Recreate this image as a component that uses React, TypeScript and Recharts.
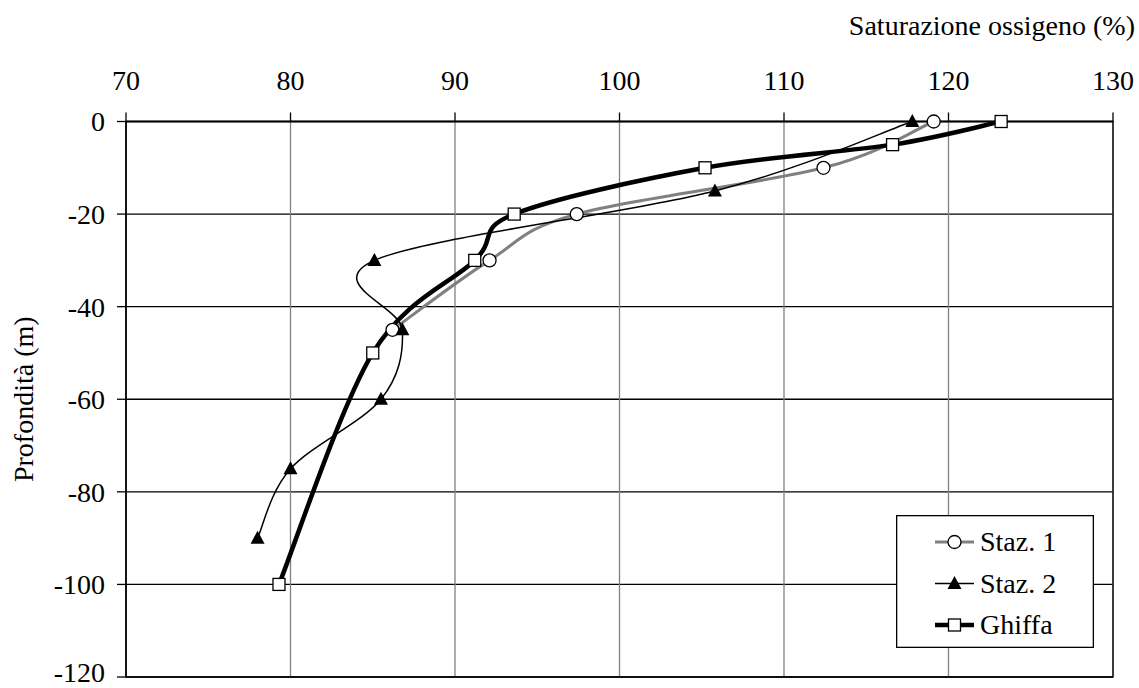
import React from 'react'
import {
  CartesianGrid,
  ComposedChart,
  Line,
  ReferenceArea,
  XAxis,
  YAxis,
} from 'recharts'

const FONT = 'Liberation Serif'
const FONT_SIZE = 28

const xTicks = [70, 80, 90, 100, 110, 120, 130]
const yTicks = [0, -20, -40, -60, -80, -100, -120]

const depthStaz1 = [0, -10, -20, -30, -45]
const satStaz1 = [119.1, 112.4, 97.4, 92.1, 86.2]

const depthStaz2 = [0, -15, -30, -45, -60, -75, -90]
const satStaz2 = [117.8, 105.8, 85.1, 86.8, 85.5, 80.0, 78.0]

const depthGhiffa = [0, -5, -10, -20, -30, -50, -100]
const satGhiffa = [123.2, 116.6, 105.2, 93.6, 91.2, 85.0, 79.3]

const toRows = (depths: number[], sats: number[]) =>
  depths.map((depth, i) => ({ depth, sat: sats[i] }))

const staz1 = toRows(depthStaz1, satStaz1)
const staz2 = toRows(depthStaz2, satStaz2)
const ghiffa = toRows(depthGhiffa, satGhiffa)

// excel-like smoothing (catmull-rom through the points)
const excelSmooth = (context: any) => {
  let pts: number[][] = []
  return {
    areaStart() {},
    areaEnd() {},
    lineStart() {
      pts = []
    },
    point(x: number, y: number) {
      pts.push([+x, +y])
    },
    lineEnd() {
      if (!pts.length) return
      context.moveTo(pts[0][0], pts[0][1])
      for (let i = 0; i < pts.length - 1; i++) {
        const p0 = pts[Math.max(i - 1, 0)]
        const p1 = pts[i]
        const p2 = pts[i + 1]
        const p3 = pts[Math.min(i + 2, pts.length - 1)]
        context.bezierCurveTo(
          p1[0] + (p2[0] - p0[0]) / 6,
          p1[1] + (p2[1] - p0[1]) / 6,
          p2[0] - (p3[0] - p1[0]) / 6,
          p2[1] - (p3[1] - p1[1]) / 6,
          p2[0],
          p2[1]
        )
      }
    },
  }
}

const Circle = ({ cx, cy }: any) => (
  <circle cx={cx} cy={cy} r={6.5} fill="#fff" stroke="#000" strokeWidth={1.3} />
)
const Triangle = ({ cx, cy }: any) => (
  <polygon
    points={`${cx - 7},${cy + 5.5} ${cx + 7},${cy + 5.5} ${cx},${cy - 7.5}`}
    fill="#000"
  />
)
const Square = ({ cx, cy }: any) => (
  <rect x={cx - 6} y={cy - 6} width={12} height={12} fill="#fff" stroke="#000" strokeWidth={1.3} />
)

const legendItems = [
  { name: 'Staz. 1', stroke: '#808080', width: 3, Marker: Circle },
  { name: 'Staz. 2', stroke: '#000', width: 1.5, Marker: Triangle },
  { name: 'Ghiffa', stroke: '#000', width: 4.5, Marker: Square },
]

const LegendBox = () => (
  <svg width={198} height={133} style={{ position: 'absolute', left: 896, top: 515 }}>
    <rect x={0.65} y={0.65} width={196.7} height={131.7} fill="#fff" stroke="#000" strokeWidth={1.3} />
    {legendItems.map((item, i) => {
      const y = 27 + i * 41.5
      return (
        <g key={item.name}>
          <line x1={39} x2={78} y1={y} y2={y} stroke={item.stroke} strokeWidth={item.width} />
          <item.Marker cx={58.5} cy={y} />
          <text x={84} y={y + 9} fontFamily={FONT} fontSize={FONT_SIZE} fill="#000">
            {item.name}
          </text>
        </g>
      )
    })}
  </svg>
)

const tickStyle = { fontFamily: FONT, fontSize: FONT_SIZE, fill: '#000' }

export default function App() {
  return (
    <div style={{ position: 'absolute', left: 0, top: 0, width: 1139, height: 688, fontFamily: FONT }}>
      <ComposedChart
        width={1139}
        height={688}
        layout="vertical"
        margin={{ top: 81.5, right: 26, bottom: 11, left: 10 }}
      >
        <CartesianGrid vertical={false} stroke="#000" strokeWidth={1.3} />
        <CartesianGrid horizontal={false} stroke="#808080" strokeWidth={1.3} />
        <XAxis
          type="number"
          orientation="top"
          domain={[70, 130]}
          ticks={xTicks}
          height={40}
          tick={tickStyle}
          tickSize={9}
          tickMargin={22.5}
          axisLine={{ stroke: '#000', strokeWidth: 1.3 }}
          tickLine={{ stroke: '#000', strokeWidth: 1.3 }}
          label={{
            content: ({ viewBox }: any) => (
              <text
                x={viewBox.x + viewBox.width + 22}
                y={viewBox.y - 47}
                textAnchor="end"
                fontFamily={FONT}
                fontSize={FONT_SIZE}
                fill="#000"
              >
                Saturazione ossigeno (%)
              </text>
            ),
          }}
        />
        <YAxis
          type="number"
          dataKey="depth"
          domain={[-120, 0]}
          ticks={yTicks}
          reversed
          width={116}
          tick={tickStyle}
          tickSize={9}
          tickMargin={12}
          axisLine={{ stroke: '#000', strokeWidth: 1.3 }}
          tickLine={{ stroke: '#000', strokeWidth: 1.3 }}
          label={{
            content: ({ viewBox }: any) => {
              const x = viewBox.x + 23
              const y = viewBox.y + viewBox.height / 2
              return (
                <text
                  x={x}
                  y={y}
                  transform={`rotate(-90, ${x}, ${y})`}
                  textAnchor="middle"
                  fontFamily={FONT}
                  fontSize={FONT_SIZE}
                  fill="#000"
                >
                  Profondità (m)
                </text>
              )
            },
          }}
        />
        <ReferenceArea x1={70} x2={130} y1={-120} y2={0} fill="none" stroke="#000" strokeWidth={1.3} />
        <Line
          data={staz1}
          dataKey="sat"
          name="Staz. 1"
          type={excelSmooth as any}
          stroke="#808080"
          strokeWidth={3}
          dot={<Circle />}
          activeDot={false}
          isAnimationActive={false}
        />
        <Line
          data={staz2}
          dataKey="sat"
          name="Staz. 2"
          type={excelSmooth as any}
          stroke="#000"
          strokeWidth={1.5}
          dot={<Triangle />}
          activeDot={false}
          isAnimationActive={false}
        />
        <Line
          data={ghiffa}
          dataKey="sat"
          name="Ghiffa"
          type={excelSmooth as any}
          stroke="#000"
          strokeWidth={4.5}
          dot={<Square />}
          activeDot={false}
          isAnimationActive={false}
        />
      </ComposedChart>
      <LegendBox />
    </div>
  )
}
